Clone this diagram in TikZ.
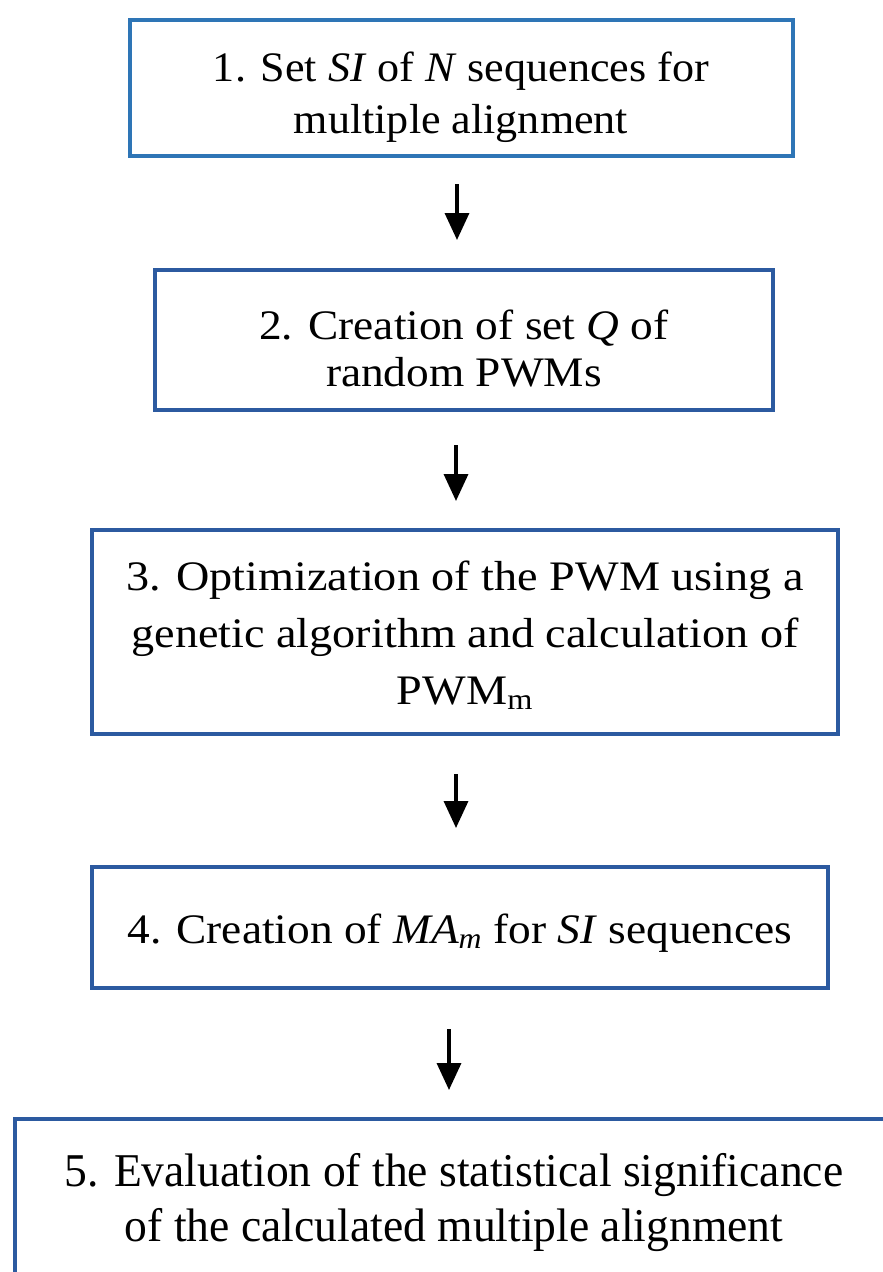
\documentclass[tikz,border=0pt]{standalone}
\usepackage{fontspec}
\setmainfont{Liberation Serif}
\usetikzlibrary{arrows.meta}
\definecolor{boxa}{RGB}{46,117,182}
\definecolor{boxb}{RGB}{44,90,160}
\begin{document}
\begin{tikzpicture}[x=1pt,y=-1pt,
  flowbox/.style={draw=boxb,line width=4pt,inner sep=0pt,rectangle},
  txt/.style={align=center,inner sep=0pt,text=black},
  arr/.style={line width=3.5pt,-{Triangle[width=24pt,length=27pt]}}]
\useasboundingbox[fill=white] (0,0) rectangle (883,1272);
% boxes
\node[flowbox,draw=boxa,minimum width=663pt,minimum height=136pt] (b1) at (461.5,88) {};
\node[flowbox,minimum width=618pt,minimum height=140pt] (b2) at (464,340) {};
\node[flowbox,minimum width=746pt,minimum height=204pt] (b3) at (465,632) {};
\node[flowbox,minimum width=736pt,minimum height=121pt] (b4) at (460,927.5) {};
\node[flowbox,minimum width=883pt,minimum height=179pt] (b5) at (456.5,1208.5) {};
% texts
\node[txt,font=\fontsize{42}{52}\selectfont,xscale=1.05] (t1) at (461,97)
  {1. Set \textit{SI} of \textit{N} sequences for\\multiple alignment};
\node[txt,font=\fontsize{42}{47}\selectfont,xscale=1.08] (t2) at (464,349)
  {2. Creation of set \textit{Q} of\\random PWMs};
\node[txt,font=\fontsize{42}{57}\selectfont,xscale=1.1] (t3) at (465,635)
  {3. Optimization of the PWM using a\\genetic algorithm and calculation of\\PWM\textsubscript{m}};
\node[txt,font=\fontsize{42}{48}\selectfont,xscale=1.08] (t4) at (460,933)
  {4. Creation of \textit{MA\textsubscript{m}} for \textit{SI} sequences};
\node[txt,font=\fontsize{47}{55}\selectfont,xscale=0.97] (t5) at (454,1203)
  {5. Evaluation of the statistical significance\\of the calculated multiple alignment};
% arrows
\draw[arr] ([shift={(-4.5,26)}]b1.south) -- ([shift={(-7,-28)}]b2.north);
\draw[arr] ([shift={(-8,33)}]b2.south) -- ([shift={(-9,-27)}]b3.north);
\draw[arr] ([shift={(-9,38)}]b3.south) -- ([shift={(-4,-37)}]b4.north);
\draw[arr] ([shift={(-11,39)}]b4.south) -- ([shift={(-7.5,-27)}]b5.north);
\end{tikzpicture}
\end{document}
